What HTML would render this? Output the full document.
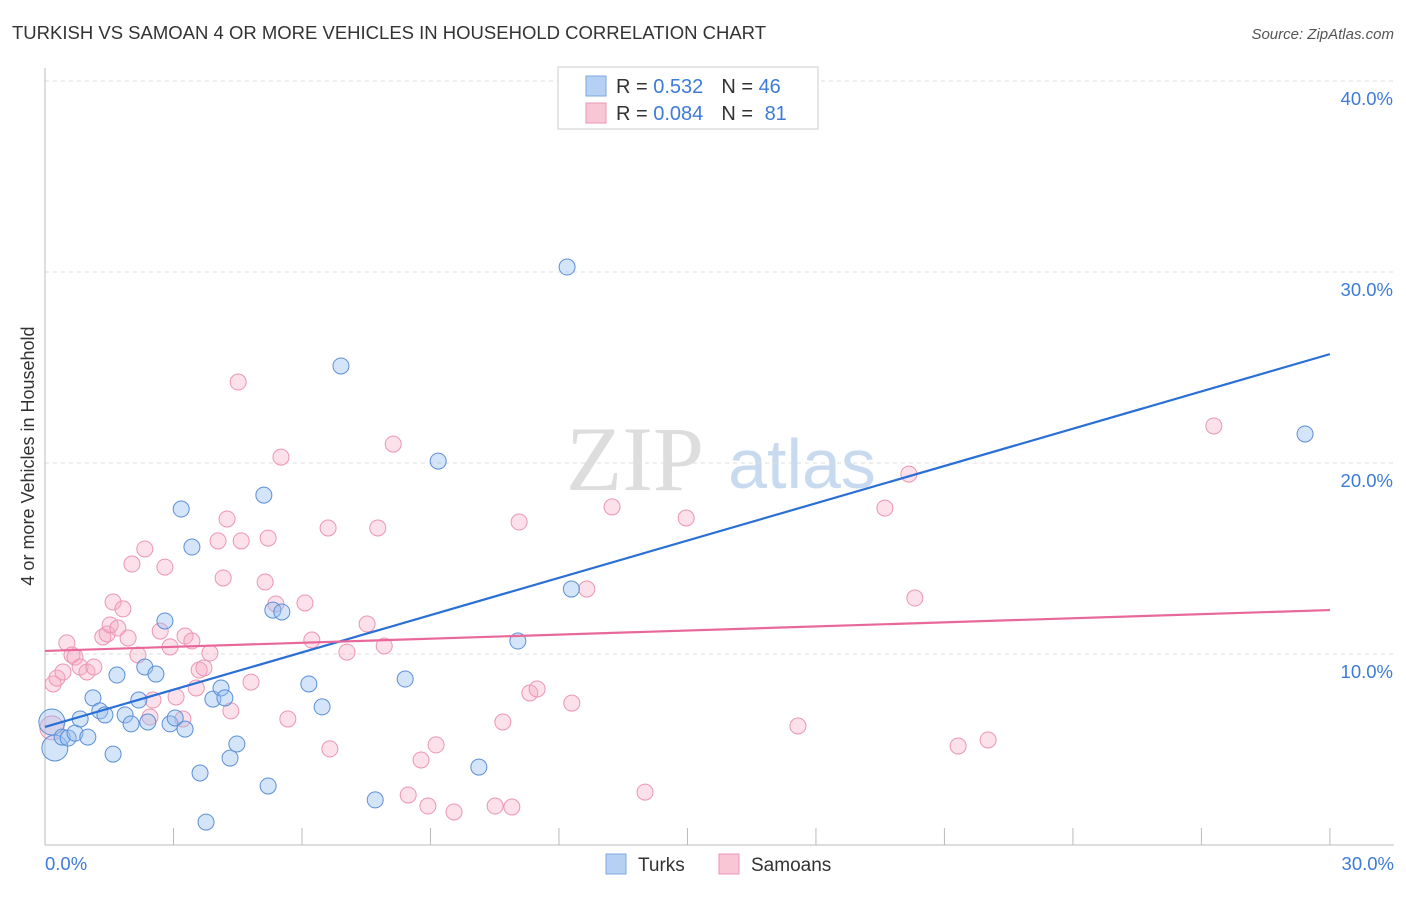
<!DOCTYPE html>
<html><head><meta charset="utf-8">
<style>
html,body{margin:0;padding:0;background:#fff;}
body{width:1406px;height:892px;overflow:hidden;font-family:"Liberation Sans",sans-serif;}
</style></head>
<body>
<svg id="chart" width="1406" height="892" xmlns="http://www.w3.org/2000/svg">
<text x="12" y="39" font-size="18.5" fill="#333" textLength="754">TURKISH VS SAMOAN 4 OR MORE VEHICLES IN HOUSEHOLD CORRELATION CHART</text>
<text x="1394" y="39" font-size="15" fill="#555" font-style="italic" text-anchor="end">Source: ZipAtlas.com</text>
<text x="34" y="456" font-size="18" fill="#333" text-anchor="middle" transform="rotate(-90 34 456)">4 or more Vehicles in Household</text>
<g>
<text x="635" y="490" font-size="92" fill="#ddd" font-family="Liberation Serif,serif" text-anchor="middle">ZIP</text>
<text x="802" y="488" font-size="70" fill="#c8daf0" text-anchor="middle">atlas</text>
</g>
<g id="grid"></g>
<g id="axes"></g>
<g id="marks"></g>
<g>
<rect x="558" y="67" width="260" height="62" fill="#fff" stroke="#ccc"/>
<rect x="586" y="76" width="20" height="20" fill="#b6d0f3" stroke="#7ea7e0"/>
<rect x="586" y="103" width="20" height="20" fill="#f8c6d5" stroke="#ec95b2"/>
<text x="616" y="93" font-size="20" fill="#333">R = <tspan fill="#3d7bd9">0.532</tspan><tspan dx="18" fill="#333">N = </tspan><tspan fill="#3d7bd9">46</tspan></text>
<text x="616" y="120" font-size="20" fill="#333">R = <tspan fill="#3d7bd9">0.084</tspan><tspan dx="18" fill="#333">N = </tspan><tspan dx="6" fill="#3d7bd9">81</tspan></text>
</g>
<g>
<rect x="606" y="854" width="20" height="20" fill="#b6d0f3" stroke="#7ea7e0"/>
<text x="638" y="871" font-size="19" fill="#333">Turks</text>
<rect x="719" y="854" width="20" height="20" fill="#f8c6d5" stroke="#ec95b2"/>
<text x="751" y="871" font-size="19" fill="#333">Samoans</text>
</g>
</svg>
<script>
const blueX=[0.16,0.23,0.40,0.54,0.70,0.82,1.00,1.12,1.28,1.40,1.59,1.68,1.87,2.01,2.19,2.33,2.40,2.59,2.80,2.92,3.04,3.18,3.27,3.43,3.62,3.76,3.92,4.11,4.20,4.32,4.48,5.11,5.21,5.32,5.53,6.16,6.47,6.91,7.71,8.41,9.18,10.13,11.04,12.19,12.29,29.42];
const blueY=[6.44,5.08,5.65,5.60,5.86,6.60,5.65,7.70,7.02,6.81,4.76,8.90,6.81,6.34,7.59,9.32,6.44,8.95,11.73,6.34,6.65,17.59,6.07,15.60,3.77,1.20,7.64,8.22,7.70,4.55,5.29,18.32,3.09,12.30,12.20,8.43,7.23,25.08,2.36,8.69,20.10,4.08,10.68,30.26,13.40,21.52];
const pinkX=[0.16,0.19,0.28,0.42,0.51,0.63,0.70,0.82,0.98,1.14,1.35,1.45,1.52,1.59,1.70,1.82,1.94,2.03,2.17,2.33,2.45,2.52,2.69,2.80,2.92,3.06,3.22,3.27,3.43,3.53,3.60,3.71,3.85,4.04,4.16,4.25,4.34,4.51,4.58,4.81,5.14,5.21,5.39,5.51,5.67,6.07,6.23,6.61,6.65,7.05,7.52,7.77,7.92,8.13,8.48,8.78,8.94,9.13,9.55,10.51,10.69,10.90,11.07,11.32,11.49,12.30,12.65,13.24,14.01,14.97,17.58,19.61,20.17,20.31,21.32,22.02,27.29];
const pinkY=[6.13,8.43,8.74,9.06,10.58,9.95,9.84,9.32,9.06,9.32,10.89,11.05,11.52,12.72,11.36,12.36,10.84,14.71,9.95,15.50,6.70,7.59,11.20,14.55,10.37,7.75,6.60,10.94,10.68,8.22,9.16,9.27,10.05,15.92,13.98,17.07,7.02,24.24,15.92,8.53,13.77,16.07,12.62,20.31,6.60,12.67,10.73,16.60,5.03,10.10,11.57,16.60,10.42,20.99,2.62,4.45,2.04,5.24,1.73,2.04,6.44,1.99,16.91,7.96,8.17,7.43,13.40,17.70,2.77,17.12,6.23,17.64,19.42,12.93,5.18,5.50,21.94];
const blueTrend=[6.18,25.7];
const pinkTrend=[10.16,12.3];
const yTicks=[10,20,30,40];
const xTickLabels=["0.0%","30.0%"];
const NS="http://www.w3.org/2000/svg";
const sx=v=>45+v*42.83, sy=v=>845-v*19.1;
function mk(tag,attrs,parent){const e=document.createElementNS(NS,tag);for(const k in attrs)e.setAttribute(k,attrs[k]);parent.appendChild(e);return e;}
const grid=document.getElementById('grid'),axes=document.getElementById('axes'),marks=document.getElementById('marks');
yTicks.forEach(t=>{
 const l=mk('line',{x1:45,x2:1394,y1:sy(t),y2:sy(t),stroke:'#ddd','stroke-dasharray':'4,4'},grid);
 
 
 const tx=mk('text',{x:1393,y:sy(t)+24,'font-size':18.5,fill:'#3d7bd9','text-anchor':'end'},axes);
 tx.textContent=t.toFixed(1)+'%';
 
 
});
mk('line',{x1:45,x2:45,y1:68,y2:845,stroke:'#bbb'},axes);
mk('line',{x1:45,x2:1394,y1:845,y2:845,stroke:'#bbb'},axes);
for(let i=0;i<=10;i++){const x=sx(i*3);mk('line',{x1:x,x2:x,y1:828,y2:845,stroke:'#bbb'},axes);}
const xl0=mk('text',{x:45,y:870,'font-size':18.5,fill:'#3d7bd9'},axes);xl0.textContent=xTickLabels[0];


const xl1=mk('text',{x:1394,y:870,'font-size':18.5,fill:'#3d7bd9','text-anchor':'end'},axes);xl1.textContent=xTickLabels[1];


pinkX.forEach((v,i)=>{
 const c=mk('circle',{cx:sx(v),cy:sy(pinkY[i]),r:i===0?12:8,fill:'rgba(245,170,195,0.35)',stroke:'#ec95b2','stroke-width':1},marks);
 
 
});
blueX.forEach((v,i)=>{
 const c=mk('circle',{cx:sx(v),cy:sy(blueY[i]),r:i<2?13:8,fill:'rgba(150,190,240,0.4)',stroke:'#5b8fd6','stroke-width':1},marks);
 
 
});
const bl=mk('line',{x1:sx(0),y1:sy(blueTrend[0]),x2:sx(30),y2:sy(blueTrend[1]),stroke:'#2a6fd6','stroke-width':2.2},marks);


const pl=mk('line',{x1:sx(0),y1:sy(pinkTrend[0]),x2:sx(30),y2:sy(pinkTrend[1]),stroke:'#e8689a','stroke-width':2.2},marks);


</script>
</body></html>
